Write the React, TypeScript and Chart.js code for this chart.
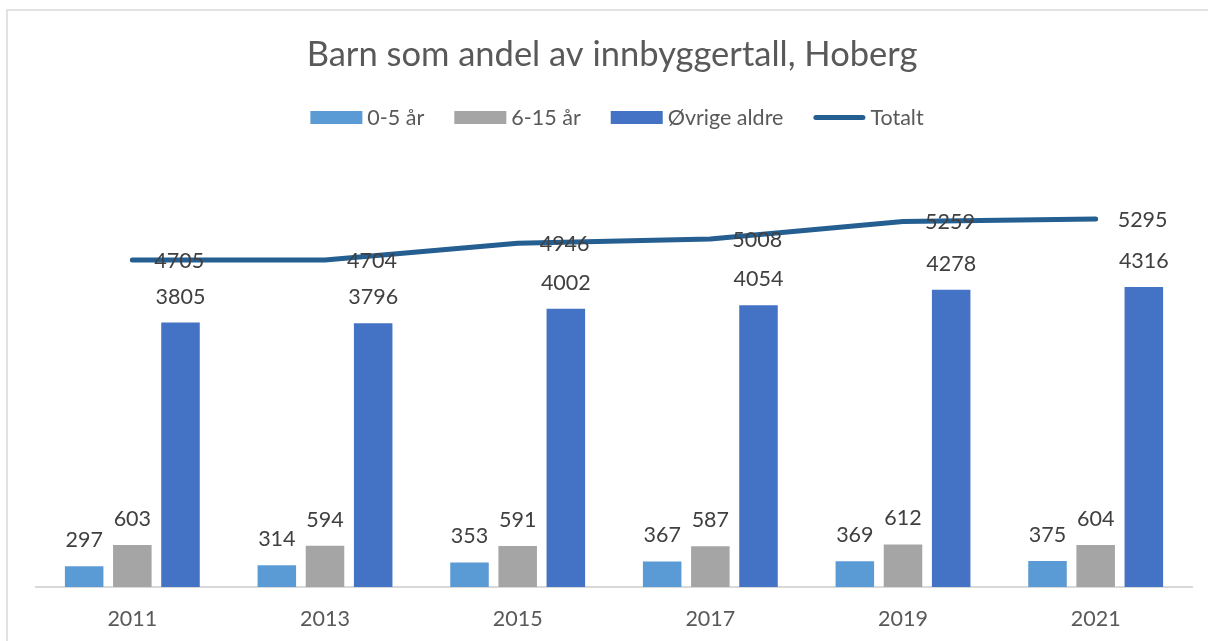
import React, { useEffect, useRef } from 'react';
import { Chart, registerables } from 'chart.js';

Chart.register(...registerables);

const titleText = 'Barn som andel av innbyggertall, Hoberg';
const years = ['2011', '2013', '2015', '2017', '2019', '2021'];
const age0to5 = [297, 314, 353, 367, 369, 375];
const age6to15 = [603, 594, 591, 587, 612, 604];
const otherAges = [3805, 3796, 4002, 4054, 4278, 4316];
const totals = [4705, 4704, 4946, 5008, 5259, 5295];
const seriesNames = ['0-5 år', '6-15 år', 'Øvrige aldre', 'Totalt'];
const seriesColors = ['#5B9BD5', '#A5A5A5', '#4472C4', '#255E91'];

const FONT = 'Lato, "Noto Sans", sans-serif';

export default function App() {
  const ref = useRef<HTMLCanvasElement>(null);

  useEffect(() => {
    const canvas = ref.current;
    if (!canvas) return;

    const decoPlugin = {
      id: 'deco',
      beforeDraw(chart: any) {
        const ctx = chart.ctx as CanvasRenderingContext2D;
        ctx.save();
        ctx.fillStyle = '#ffffff';
        ctx.fillRect(0, 0, chart.width, chart.height);
        ctx.strokeStyle = '#d9d9d9';
        ctx.lineWidth = 1.5;
        ctx.strokeRect(7, 10, 1400, 800);

        // title
        ctx.fillStyle = '#595959';
        ctx.font = `34.5px ${FONT}`;
        ctx.textAlign = 'center';
        ctx.textBaseline = 'middle';
        ctx.fillText(titleText, 612, 55);

        // legend
        ctx.font = `21.5px ${FONT}`;
        const swW = 52;
        const gap = 5;
        const spacing = 30;
        const widths = seriesNames.map((n) => ctx.measureText(n).width);
        const total = widths.reduce((a, w) => a + swW + gap + w, 0) + spacing * (seriesNames.length - 1);
        let x = 617 - total / 2;
        const cy = 117.5;
        ctx.textAlign = 'left';
        ctx.textBaseline = 'middle';
        seriesNames.forEach((n, i) => {
          if (i === 3) {
            ctx.strokeStyle = seriesColors[i];
            ctx.lineWidth = 5;
            ctx.lineCap = 'round';
            ctx.beginPath();
            ctx.moveTo(x + 2.5, cy);
            ctx.lineTo(x + swW - 2.5, cy);
            ctx.stroke();
          } else {
            ctx.fillStyle = seriesColors[i];
            ctx.fillRect(x, cy - 6.5, swW, 13);
          }
          ctx.fillStyle = '#595959';
          ctx.fillText(n, x + swW + gap, cy + 1);
          x += swW + gap + widths[i] + spacing;
        });
        ctx.restore();
      },
      afterDatasetsDraw(chart: any) {
        const ctx = chart.ctx as CanvasRenderingContext2D;
        ctx.save();
        ctx.font = `21.5px ${FONT}`;
        ctx.fillStyle = '#404040';
        chart.data.datasets.forEach((ds: any, di: number) => {
          const meta = chart.getDatasetMeta(di);
          meta.data.forEach((el: any, i: number) => {
            const v = ds.data[i];
            if (ds.type === 'line') {
              ctx.textAlign = 'left';
              ctx.textBaseline = 'middle';
              ctx.fillText(String(v), el.x + 22, el.y + 1);
            } else {
              ctx.textAlign = 'center';
              ctx.textBaseline = 'alphabetic';
              ctx.fillText(String(v), el.x, el.y - 19);
            }
          });
        });
        ctx.restore();
      },
    };

    const chart = new Chart(canvas, {
      type: 'bar',
      data: {
        labels: years,
        datasets: [
          {
            type: 'line',
            label: seriesNames[3],
            data: totals,
            borderColor: seriesColors[3],
            backgroundColor: seriesColors[3],
            borderWidth: 5,
            borderCapStyle: 'round',
            borderJoinStyle: 'round',
            pointRadius: 0,
            tension: 0,
            fill: false,
            order: 0,
          } as any,
          {
            type: 'bar',
            label: seriesNames[0],
            data: age0to5,
            backgroundColor: seriesColors[0],
            categoryPercentage: 0.75,
            barPercentage: 0.8,
            order: 1,
          },
          {
            type: 'bar',
            label: seriesNames[1],
            data: age6to15,
            backgroundColor: seriesColors[1],
            categoryPercentage: 0.75,
            barPercentage: 0.8,
            order: 1,
          },
          {
            type: 'bar',
            label: seriesNames[2],
            data: otherAges,
            backgroundColor: seriesColors[2],
            categoryPercentage: 0.75,
            barPercentage: 0.8,
            order: 1,
          },
        ],
      },
      options: {
        responsive: false,
        animation: false,
        layout: { padding: { left: 36, right: 16, top: 170, bottom: 0 } },
        plugins: {
          legend: { display: false },
          title: { display: false },
          tooltip: { enabled: false },
        },
        scales: {
          x: {
            grid: { display: false, drawTicks: false },
            border: { display: true, color: '#d9d9d9', width: 2 },
            ticks: {
              color: '#595959',
              font: { family: FONT, size: 21.5 },
              padding: 19,
              maxRotation: 0,
            },
            afterFit(scale: any) {
              scale.height = 54;
            },
          },
          y: {
            display: false,
            min: 0,
            max: 6000,
          },
        },
      },
      plugins: [decoPlugin],
    });

    return () => chart.destroy();
  }, []);

  return (
    <div style={{ position: 'fixed', left: 0, top: 0, width: 1208, height: 641, background: '#fff' }}>
      <canvas ref={ref} width={1208} height={641} style={{ width: 1208, height: 641, display: 'block' }} />
    </div>
  );
}
